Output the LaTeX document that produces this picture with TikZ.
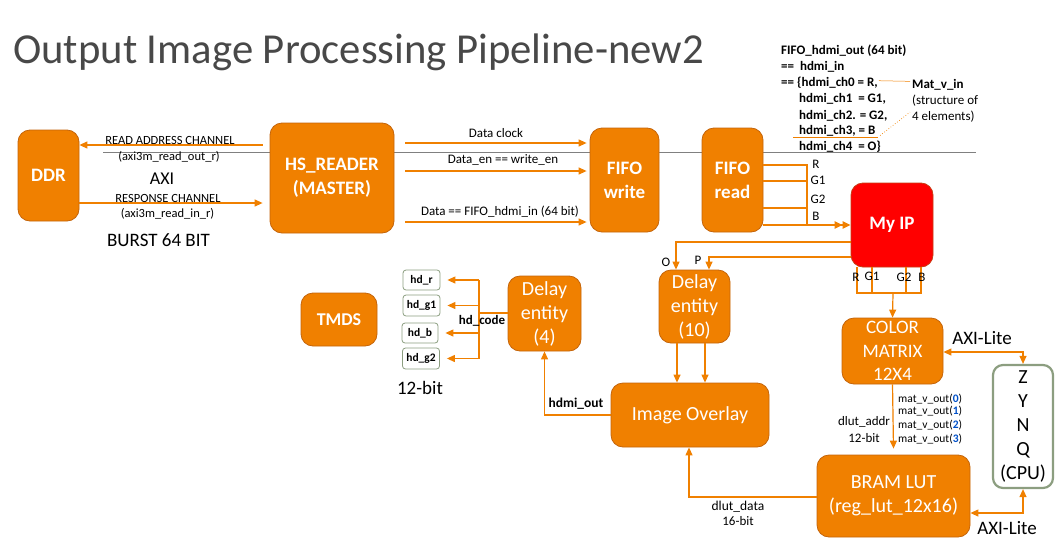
\documentclass[tikz,border=0pt]{standalone}
\usepackage{fontspec}
\setmainfont{Carlito}
\usetikzlibrary{arrows.meta,calc}
\definecolor{org}{RGB}{240,128,0}
\definecolor{orgd}{RGB}{196,100,10}
\definecolor{ipred}{RGB}{255,0,0}
\definecolor{ipredd}{RGB}{200,60,20}
\definecolor{gg}{RGB}{140,158,128}
\definecolor{ttl}{RGB}{72,72,72}
\definecolor{numblue}{RGB}{0,80,200}
\definecolor{gline}{RGB}{128,128,128}
\begin{document}
\begin{tikzpicture}[x=1pt,y=-1pt,
  obox/.style={draw=orgd, fill=org, rounded corners=12pt, text=white, align=center, inner sep=0pt, line width=0.8pt},
  rbox/.style={draw=ipredd, fill=ipred, rounded corners=12pt, text=white, align=center, inner sep=0pt, line width=0.8pt},
  gbox/.style={draw=gg, fill=white, rounded corners=3pt, inner sep=0pt, line width=0.8pt, font=\bfseries\fontsize{11.5}{12}\selectfont},
  wire/.style={draw=org, line width=1.2pt},
  arr/.style={draw=org, line width=1.2pt, -{Triangle[length=8pt,width=7pt]}},
  arrb/.style={draw=org, line width=1.2pt, {Triangle[length=8pt,width=7pt]}-{Triangle[length=8pt,width=7pt]}},
  lbl/.style={inner sep=0pt, font=\fontsize{13}{15}\selectfont},
  blbl/.style={inner sep=0pt, font=\bfseries\fontsize{13.5}{15}\selectfont},
  tline/.style={anchor=base west, inner sep=0pt, font=\bfseries\fontsize{13}{14}\selectfont},
  big/.style={font=\bfseries\fontsize{19}{24}\selectfont},
  reg/.style={font=\fontsize{20}{24}\selectfont}
]
\useasboundingbox (0,0) rectangle (1064,546);

% title
\node[anchor=base west, inner sep=0pt, text=ttl, font=\fontsize{42.7}{43}\selectfont] (title) at (13,63) {Output Image Processing Pipeline-new2};

% gray horizontal line (background)
\draw[gline, line width=0.8pt] (103,152) -- (976,152);

% boxes
\node[obox, big, minimum width=61, minimum height=91] (ddr) at (48.5,175.5) {DDR};
\node[obox, big, minimum width=124, minimum height=110] (hsr) at (332,178) {HS\_READER\\(MASTER)};
\node[obox, big, minimum width=69, minimum height=104] (fifow) at (624.5,180) {FIFO\\write};
\node[obox, big, minimum width=61, minimum height=104] (fifor) at (732.5,180) {FIFO\\read};
\node[rbox, big, minimum width=82, minimum height=84] (myip) at (892,225) {My IP};
\node[obox, reg, font=\fontsize{19}{23.5}\selectfont, minimum width=101, minimum height=66] (colm) at (892.5,351) {COLOR\\MATRIX\\12X4};
\node[draw=gg, fill=white, rounded corners=10pt, line width=2.2pt, align=center, inner sep=0pt, font=\fontsize{20}{24}\selectfont, minimum width=60, minimum height=123] (zynq) at (1023,426.5) {Z\\Y\\N\\Q\\(CPU)};
\node[obox, reg, minimum width=153, minimum height=82] (bram) at (893.5,496) {BRAM LUT\\(reg\_lut\_12x16)};
\node[obox, reg, minimum width=158, minimum height=64] (overlay) at (690,415) {Image Overlay};
\node[obox, reg, minimum width=71, minimum height=73] (del10) at (694.5,306.5) {Delay\\entity\\(10)};
\node[obox, reg, minimum width=73, minimum height=75] (del4) at (544.5,313.5) {Delay\\entity\\(4)};
\node[obox, big, font=\bfseries\fontsize{18}{22}\selectfont, minimum width=76, minimum height=53] (tmds) at (339,319.5) {TMDS};

\node[gbox, minimum width=37, minimum height=20] (hdr) at (421.5,280) {hd\_r};
\node[gbox, minimum width=37, minimum height=21] (hdg1) at (421.5,305.5) {hd\_g1};
\node[gbox, minimum width=36, minimum height=20] (hdb) at (420,333) {hd\_b};
\node[gbox, minimum width=37, minimum height=21] (hdg2) at (421,358.5) {hd\_g2};
\node[inner sep=0pt, font=\fontsize{19}{22}\selectfont] (twelve) at (420,388) {12-bit};

% AXI connection DDR <-> HS_READER
\draw[arr] ($(hsr.west |- 0,145)+(-7,0)$) -- (ddr.east |- 0,145);
\draw[arr] (ddr.east |- 0,203) -- ($(hsr.west |- 0,203)+(-7,0)$);
\node[lbl, font=\fontsize{12.5}{14}\selectfont] (rac) at (170,140) {READ ADDRESS CHANNEL};
\node[lbl, font=\fontsize{12.5}{14}\selectfont] (raco) at (169,157) {(axi3m\_read\_out\_r)};
\node[inner sep=0pt, font=\fontsize{18}{20}\selectfont] (axi) at (162,179) {AXI};
\node[lbl, font=\fontsize{12.5}{14}\selectfont] (rsc) at (168,198) {RESPONSE CHANNEL};
\node[lbl, font=\fontsize{12.5}{14}\selectfont] (rsci) at (167.5,214) {(axi3m\_read\_in\_r)};
\node[inner sep=0pt, font=\fontsize{19}{22}\selectfont] (burst) at (158.5,240) {BURST 64 BIT};

% HS_READER -> FIFO write
\draw[arr] ($(hsr.east |- 0,143)+(11,0)$) -- ($(fifow.west |- 0,143)+(-3,0)$);
\draw[arr] ($(hsr.east |- 0,171)+(11,0)$) -- ($(fifow.west |- 0,171)+(-3,0)$);
\draw[arr] ($(hsr.east |- 0,222)+(11,0)$) -- ($(fifow.west |- 0,222)+(-3,0)$);
\node[lbl] (dclk) at (496,133) {Data clock};
\node[lbl] (den) at (503,160) {Data\_en == write\_en};
\node[lbl] (dat) at (500,211.5) {Data == FIFO\_hdmi\_in (64 bit)};

% FIFO read -> My IP
\coordinate (bus) at (807,225);
\draw[wire] (fifor.east |- 0,165) -- (bus |- 0,165) -- (bus);
\draw[wire] (fifor.east |- 0,181) -- (bus |- 0,181);
\draw[wire] (fifor.east |- 0,208) -- (bus |- 0,208);
\draw[wire] (fifor.east |- 0,225) -- (bus);
\draw[draw=org, line width=2.4pt, -{Triangle[length=8pt,width=7pt]Triangle[length=8pt,width=7pt]}] (bus) -- (myip.west |- bus);
\node[lbl] (lr) at (816,164) {R};
\node[lbl] (lg1) at (818,180) {G1};
\node[lbl] (lg2) at (818,199) {G2};
\node[lbl] (lb) at (816,216) {B};

% My IP -> Delay entity (10)
\draw[arr] (myip.west |- 0,242) -- (676,242) -- (676,0 |- del10.north);
\draw[arr] (myip.west |- 0,257) -- (709,257) -- (709,0 |- del10.north);
\node[lbl] (lo) at (666,262) {O};
\node[lbl] (lp) at (698,260) {P};

% My IP -> COLOR MATRIX
\coordinate (mb) at (893,293);
\draw[wire] (857,0 |- myip.south) -- (857,293) -- (921,293) -- (921,0 |- myip.south);
\draw[wire] (872,0 |- myip.south) -- (872,293);
\draw[wire] (906,0 |- myip.south) -- (906,293);
\draw[arr] (mb) -- (colm.north);
\node[lbl] (mr) at (856,277) {R};
\node[lbl] (mg1) at (872,276) {G1};
\node[lbl] (mg2) at (904,277) {G2};
\node[lbl] (mbb) at (922,277) {B};

% COLOR MATRIX -> BRAM LUT
\draw[arr] (colm.south) -- ($(bram.north)+(0,-6)$);
\node[lbl] (dla) at (864,422) {dlut\_addr};
\node[lbl] (dla2) at (864,438.5) {12-bit};
\foreach \i/\yy in {0/399,1/411.5,2/425,3/439}
  \node[anchor=west, inner sep=0pt, font=\fontsize{11.5}{12}\selectfont] (mvo\i) at (898,\yy) {mat\_v\_out(\textcolor{numblue}{\textbf{\i}})};

% AXI-Lite to ZYNQ
\draw[arrb] (colm.east |- 0,352) -- (zynq.north |- 0,352) -- (zynq.north);
\draw[arrb] (bram.east |- 0,513) -- (zynq.south |- 0,513) -- (zynq.south);
\node[inner sep=0pt, font=\fontsize{19}{22}\selectfont] (axl1) at (982,338) {AXI-Lite};
\node[inner sep=0pt, font=\fontsize{19}{22}\selectfont] (axl2) at (1007,528) {AXI-Lite};

% BRAM LUT -> Image Overlay
\draw[arr] (bram.west |- 0,497) -- (689,497) -- (689,0 |- overlay.south);
\node[lbl, font=\fontsize{13.5}{15}\selectfont] (dld) at (738,507) {dlut\_data};
\node[lbl] (dld2) at (738,521.5) {16-bit};

% Delay entity (10) -> Image Overlay
\draw[arr] (677,0 |- del10.south) -- (677,0 |- overlay.north);
\draw[arr] (705,0 |- del10.south) -- (705,0 |- overlay.north);

% Image Overlay -> Delay entity (4)
\draw[arr] (overlay.west |- 0,415) -- (del4.south |- 0,415) -- (del4.south);
\node[blbl] (hout) at (576,403.5) {hdmi\_out};

% Delay entity (4) -> hd_*
\coordinate (hdc) at (479,313);
\draw[wire] (del4.west |- hdc) -- (hdc);
\draw[wire] (hdc |- hdr.east) -- (hdc |- hdg2.east);
\foreach \n in {hdr,hdg1,hdb,hdg2}
  \draw[arr] (hdc |- \n.east) -- ($(\n.east)+(7,0)$);
\node[blbl, font=\bfseries\fontsize{13}{15}\selectfont] (hdcode) at (482,321) {hd\_code};

% top-right text block
\node[tline] (t1) at (781,54) {FIFO\_hdmi\_out (64 bit)};
\node[tline] (t2) at (781,70) {==\ \ hdmi\_in};
\node[tline] (t3) at (781,86.5) {== \{hdmi\_ch0 = R,};
\node[tline] (t4) at (799,102.5) {hdmi\_ch1\ \ = G1,};
\node[tline] (t5) at (799,119) {hdmi\_ch2. = G2,};
\node[tline] (t6) at (799,134) {hdmi\_ch3, = B};
\node[tline] (t7) at (799,150.5) {hdmi\_ch4\ \ = O\}};
\node[tline] (mv1) at (912,88) {Mat\_v\_in};
\node[tline, font=\fontsize{13}{14}\selectfont] (mv2) at (912,104) {(structure of};
\node[tline, font=\fontsize{13}{14}\selectfont] (mv3) at (912,120) {4 elements)};
\coordinate (ul1) at (793,137.5);
\coordinate (ul2) at (878,137.5);
\draw[org, line width=1.8pt] (ul1) -- (ul2);
\draw[org, line width=0.5pt] ($(t3.east)+(1,-2)$) -- ($(mv1.west)+(-2,-3)$);
\draw[org, line width=0.7pt, dotted] ($(ul2)+(2,-2)$) -- ($(mv3.west)+(-2,-4)$);
\end{tikzpicture}
\end{document}
